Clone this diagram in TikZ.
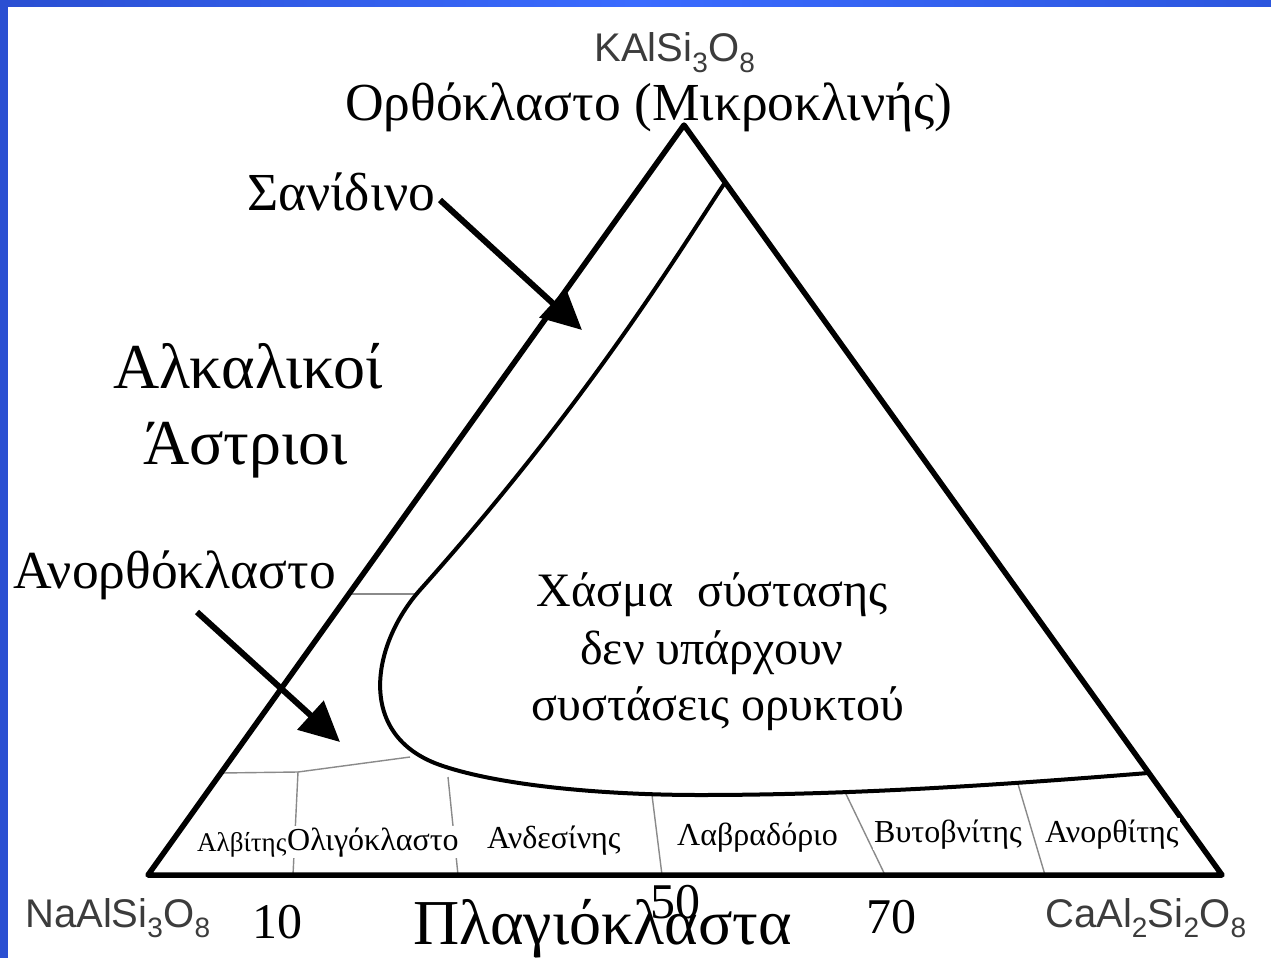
\documentclass[tikz,border=0pt]{standalone}
\usepackage{fontspec}
\setmainfont{Liberation Serif}
\newfontfamily\arialf{Liberation Sans}
\usetikzlibrary{arrows.meta}
\definecolor{bandL}{HTML}{2A4FD2}
\definecolor{bandM}{HTML}{3A6BFF}
\definecolor{bandR}{HTML}{2C56DE}
\definecolor{formgray}{HTML}{3C3C3C}
\definecolor{divgray}{HTML}{8A8A8A}
\newcommand{\fsz}[1]{\fontsize{#1}{#1}\selectfont}
\tikzset{
  tri/.style={line width=5.5pt, line join=round},
  solvus/.style={line width=4pt},
  divider/.style={draw=divgray, line width=1.4pt},
  formula/.style={font=\arialf\fsz{40}, text=formgray, inner sep=0pt},
  biglabel/.style={font=\fsz{53.5}, inner sep=0pt},
  hugelabel/.style={font=\fsz{64}, inner sep=0pt},
  midlabel/.style={font=\fsz{48}, inner sep=0pt},
  numlabel/.style={font=\fsz{50}, inner sep=0pt},
  smalllabel/.style={font=\fsz{32}, inner sep=1pt, fill=white},
  pointer/.style={line width=6pt, -{Triangle[length=40pt,width=38pt]}}
}
\begin{document}
\begin{tikzpicture}[x=1pt,y=-1pt]
\useasboundingbox (0,0) rectangle (1271,958);
\fill[white] (0,0) rectangle (1271,958);
% blue frame
\shade[left color=bandL, right color=bandR, middle color=bandM] (0,0) rectangle (1271,7);
\fill[bandL] (0,0) rectangle (8,958);

% triangle
\coordinate (A) at (684,125);
\coordinate (B) at (148,875);
\coordinate (C) at (1222,875);

% divider lines
\draw[divider] (349,594) -- (418,594);
\draw[divider] (221,773) -- (298,772) -- (410,757);
\draw[divider] (298,772) -- (293,875);
\draw[divider] (448,777) -- (458,875);
\draw[divider] (652,795) -- (662,875);
\draw[divider] (845,792) -- (885,875);
\draw[divider] (1018,784) -- (1045,875);

% solvus curve
\draw[solvus] (724,184) .. controls (680,250) and (590,400) .. (420,590)
  .. controls (372,644) and (355,735) .. (440,765)
  .. controls (497,785) and (600,795) .. (700,795)
  .. controls (850,795) and (1000,785) .. (1148,773);

\draw[tri] (A) -- (B) -- (C) -- cycle;

% small labels
\node[smalllabel, font=\fsz{27}, anchor=base west] (alb) at (196,851) {Αλβίτης};
\node[smalllabel, anchor=base west] (oli) at (286,850) {Ολιγόκλαστο};
\node[smalllabel, anchor=base west] (and) at (486,848) {Ανδεσίνης};
\node[smalllabel, anchor=base west] (lab) at (676,845) {Λαβραδόριο};
\node[smalllabel, anchor=base west] (byt) at (873,842) {Βυτοβνίτης};
\node[smalllabel, anchor=base west] (ano) at (1044,842) {Ανορθίτης};

% formulas
\node[formula, anchor=base] (kal) at (675,62) {KAlSi\textsubscript{3}O\textsubscript{8}};
\node[formula, anchor=base west] (nal) at (25,927) {NaAlSi\textsubscript{3}O\textsubscript{8}};
\node[formula, anchor=base west] (cal) at (1045,927) {CaAl\textsubscript{2}Si\textsubscript{2}O\textsubscript{8}};

% big labels
\node[biglabel, anchor=base west] (orth) at (345,120) {Ορθόκλαστο (Μικροκλινής)};
\node[biglabel, anchor=base west] (san) at (247,210) {Σανίδινο};
\node[hugelabel, anchor=base west] (alk) at (113,388) {Αλκαλικοί};
\node[hugelabel, anchor=base west] (ast) at (143,464) {Άστριοι};
\node[biglabel, anchor=base west] (anorth) at (13,588) {Ανορθόκλαστο};
\node[midlabel, anchor=base] (gap1) at (712,606) {Χάσμα\ \ σύστασης};
\node[midlabel, anchor=base] (gap2) at (712,664) {δεν υπάρχουν};
\node[midlabel, anchor=base] (gap3) at (718,720) {συστάσεις ορυκτού};
\node[numlabel, anchor=base west] (n10) at (252,938) {10};
\node[numlabel, anchor=base west] (n70) at (866,933) {70};
\node[hugelabel, anchor=base west] (plag) at (413,944) {Πλαγιόκλαστα};
\node[numlabel, anchor=base west] (n50) at (650,918) {50};

% arrows
\coordinate (sanStart) at (440,200);
\coordinate (sanTip) at (582,330);
\draw[pointer] (sanStart) -- (sanTip);
\coordinate (anStart) at (197,612);
\coordinate (anTip) at (340,742);
\draw[pointer] (anStart) -- (anTip);
\end{tikzpicture}
\end{document}
